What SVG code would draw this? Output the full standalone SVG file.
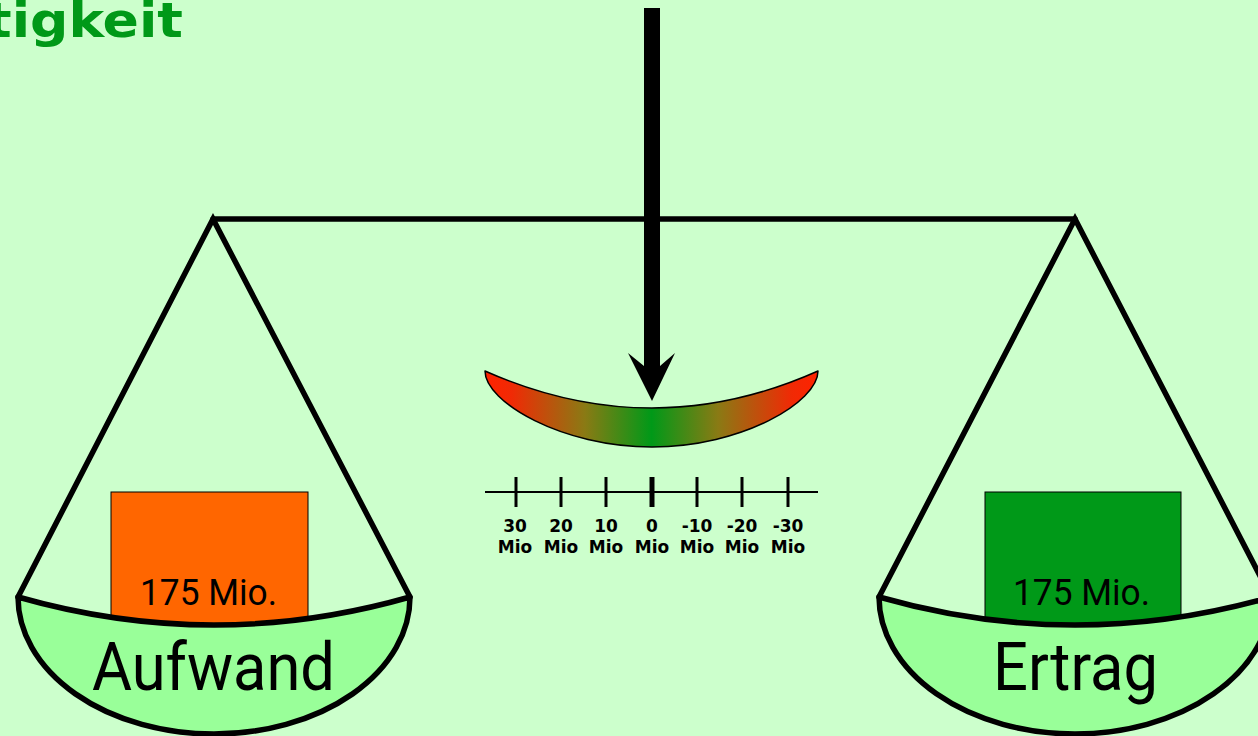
<svg xmlns="http://www.w3.org/2000/svg" width="1258" height="736" viewBox="0 0 1258 736">
<defs>
<linearGradient id="gauge" x1="485" y1="0" x2="818" y2="0" gradientUnits="userSpaceOnUse">
<stop offset="0" stop-color="#FF2200"/>
<stop offset="0.08" stop-color="#F02A05"/>
<stop offset="0.3" stop-color="#8A7A14"/>
<stop offset="0.5" stop-color="#009918"/>
<stop offset="0.7" stop-color="#8A7A14"/>
<stop offset="0.92" stop-color="#F02A05"/>
<stop offset="1" stop-color="#FF2200"/>
</linearGradient>
<style>
.line{stroke:#000;stroke-width:5.5;fill:none;stroke-linecap:round}
.pan{fill:#99FF99;stroke:#000;stroke-width:5.5;stroke-linejoin:round}
.weight{font-family:Roboto,"Liberation Sans",sans-serif;font-size:36px;fill:#000}
.big{font-family:Roboto,"Liberation Sans",sans-serif;font-size:66px;fill:#000}
.lbl{font-family:"DejaVu Sans",Verdana,sans-serif;font-weight:bold;font-size:17px;fill:#000;text-anchor:middle}
.tick{stroke:#000;stroke-width:3}
</style>
</defs>
<rect width="1258" height="736" fill="#CCFFCC"/>
<text x="-14" y="37" font-family="DejaVu Sans, Verdana, sans-serif" font-weight="bold" font-size="48" fill="#009918" textLength="197" lengthAdjust="spacingAndGlyphs">tigkeit</text>

<g id="beam">
<line class="line" x1="213" y1="219" x2="1075" y2="219"/>
</g>

<g id="left-scale">
<path class="line" d="M18,597 L213,219 L410,597"/>
<rect x="111" y="492" width="197" height="135" fill="#FF6600" stroke="#000" stroke-width="1"/>
<text class="weight" x="140" y="605" textLength="137" lengthAdjust="spacingAndGlyphs">175 Mio.</text>
<path class="pan" d="M18,597 Q214,653 410,597 A196,137 0 0 1 18,597 Z"/>
<text class="big" x="92" y="690" textLength="243" lengthAdjust="spacingAndGlyphs">Aufwand</text>
</g>

<g id="right-scale">
<path class="line" d="M879,597 L1075,219 L1271,597"/>
<rect x="985" y="492" width="196" height="135" fill="#009918" stroke="#000" stroke-width="1"/>
<text class="weight" x="1013" y="605" textLength="137" lengthAdjust="spacingAndGlyphs">175 Mio.</text>
<path class="pan" d="M879,597 Q1075,653 1271,597 A196,137 0 0 1 879,597 Z"/>
<text class="big" x="993" y="690" textLength="165" lengthAdjust="spacingAndGlyphs">Ertrag</text>
</g>

<g id="gauge-arc">
<path d="M485,371 Q652,445 818,371 C818,402 742,447 652,447 C562,447 485,402 485,371 Z" fill="url(#gauge)" stroke="#000" stroke-width="1.5" stroke-linejoin="round"/>
</g>

<g id="scale">
<line x1="485" y1="492" x2="818" y2="492" stroke="#000" stroke-width="2"/>
<line class="tick" x1="516" y1="477" x2="516" y2="507"/>
<line class="tick" x1="561" y1="477" x2="561" y2="507"/>
<line class="tick" x1="606" y1="477" x2="606" y2="507"/>
<line x1="652" y1="477" x2="652" y2="507" stroke="#000" stroke-width="5"/>
<line class="tick" x1="697" y1="477" x2="697" y2="507"/>
<line class="tick" x1="742" y1="477" x2="742" y2="507"/>
<line class="tick" x1="788" y1="477" x2="788" y2="507"/>
<text class="lbl" x="515" y="532">30</text><text class="lbl" x="515" y="553">Mio</text>
<text class="lbl" x="561" y="532">20</text><text class="lbl" x="561" y="553">Mio</text>
<text class="lbl" x="606" y="532">10</text><text class="lbl" x="606" y="553">Mio</text>
<text class="lbl" x="652" y="532">0</text><text class="lbl" x="652" y="553">Mio</text>
<text class="lbl" x="697" y="532">-10</text><text class="lbl" x="697" y="553">Mio</text>
<text class="lbl" x="742" y="532">-20</text><text class="lbl" x="742" y="553">Mio</text>
<text class="lbl" x="788" y="532">-30</text><text class="lbl" x="788" y="553">Mio</text>
</g>

<g id="connectors">
<polygon points="644,8 660,8 660,366 675,353 652,401 628,353 644,366" fill="#000"/>
</g>
</svg>
